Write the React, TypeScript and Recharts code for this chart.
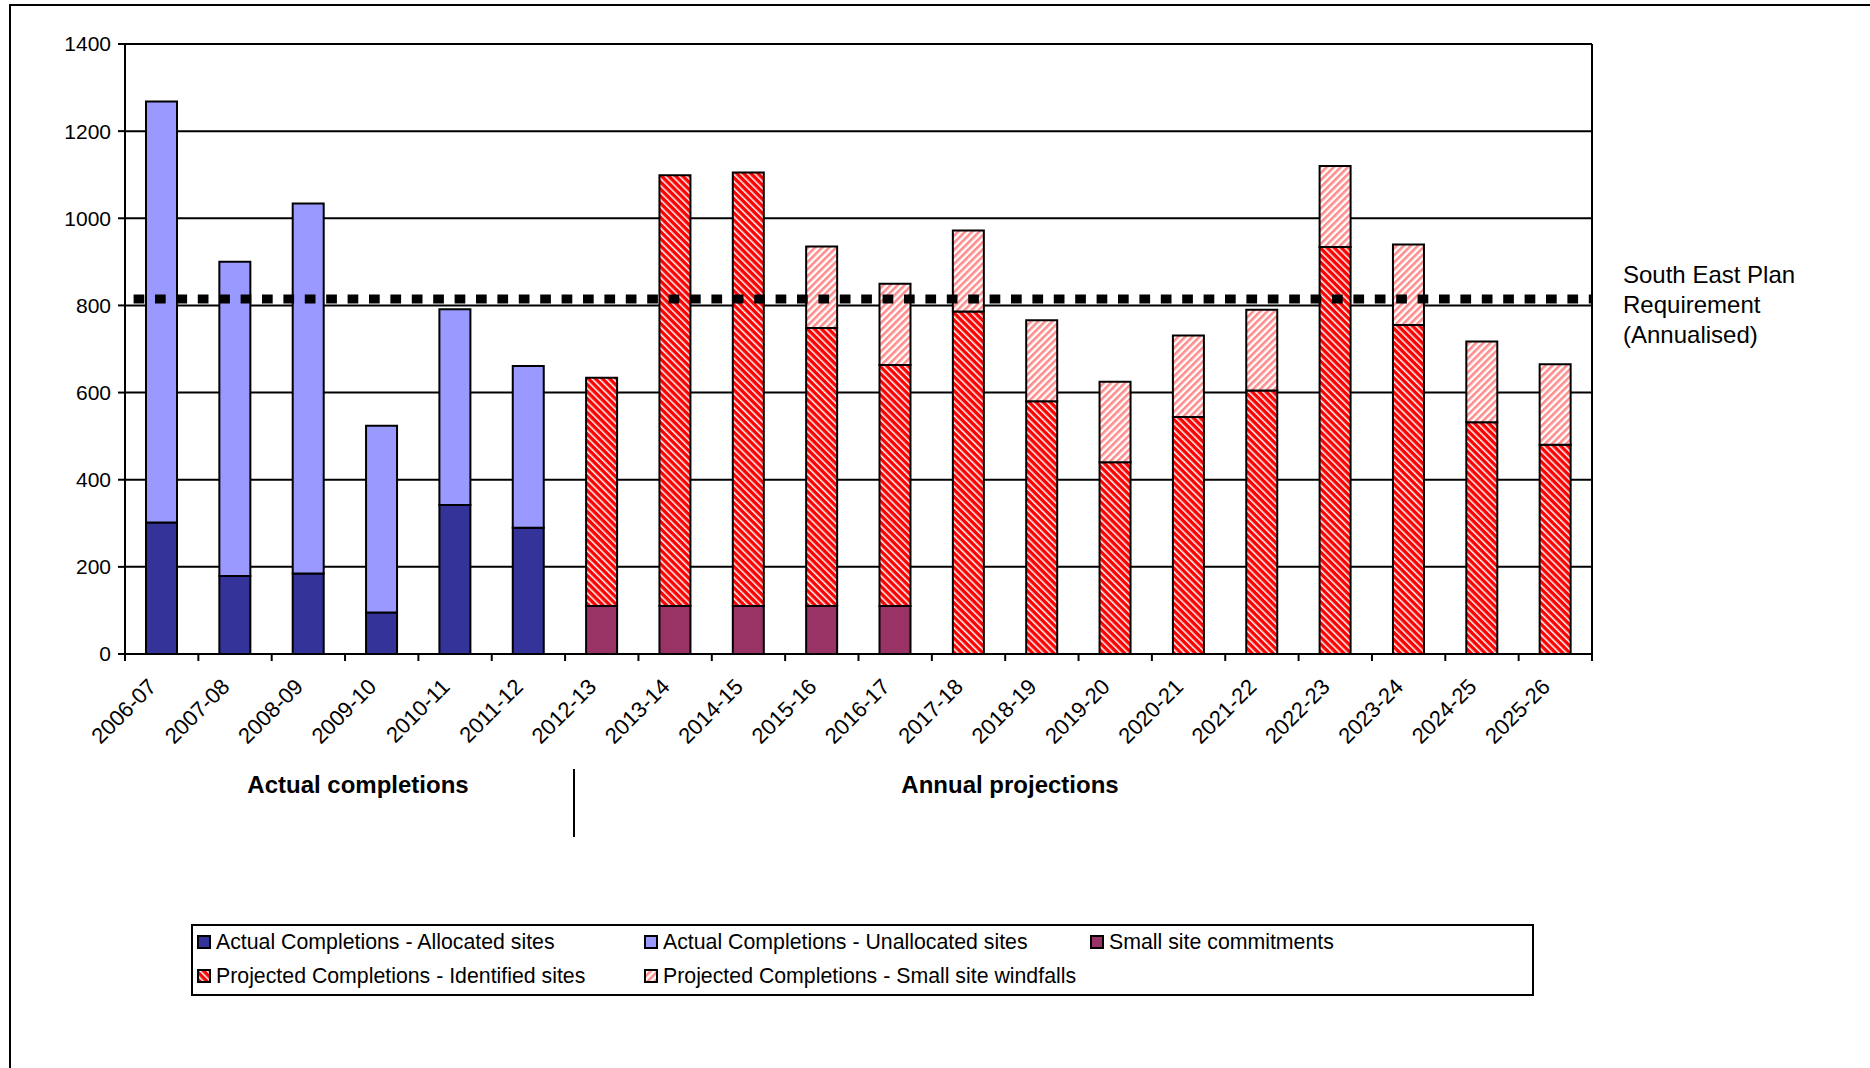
import { BarChart, Bar, XAxis, YAxis, CartesianGrid, ReferenceLine } from "recharts";

const YEARS = [
  "2006-07", "2007-08", "2008-09", "2009-10", "2010-11", "2011-12", "2012-13",
  "2013-14", "2014-15", "2015-16", "2016-17", "2017-18", "2018-19", "2019-20",
  "2020-21", "2021-22", "2022-23", "2023-24", "2024-25", "2025-26",
];
const ALLOCATED = [302, 179, 185, 95, 342, 290, 0, 0, 0, 0, 0, 0, 0, 0, 0, 0, 0, 0, 0, 0];
const UNALLOCATED = [966, 721, 849, 429, 449, 371, 0, 0, 0, 0, 0, 0, 0, 0, 0, 0, 0, 0, 0, 0];
const COMMITMENTS = [0, 0, 0, 0, 0, 0, 110, 110, 110, 110, 110, 0, 0, 0, 0, 0, 0, 0, 0, 0];
const IDENTIFIED = [0, 0, 0, 0, 0, 0, 524, 989, 995, 638, 553, 786, 580, 440, 544, 605, 934, 755, 532, 480];
const WINDFALLS = [0, 0, 0, 0, 0, 0, 0, 0, 0, 187, 187, 186, 186, 185, 187, 185, 186, 185, 185, 185];
const REQUIREMENT = 815;
const Y_TICKS = [0, 200, 400, 600, 800, 1000, 1200, 1400];

const SERIES = [
  { key: "allocated", name: "Actual Completions - Allocated sites", fill: "#333399" },
  { key: "unallocated", name: "Actual Completions - Unallocated sites", fill: "#9999FF" },
  { key: "commitments", name: "Small site commitments", fill: "#993366" },
  { key: "identified", name: "Projected Completions - Identified sites", fill: "url(#pIdent)" },
  { key: "windfalls", name: "Projected Completions - Small site windfalls", fill: "url(#pWind)" },
];

const data = YEARS.map((year, i) => ({
  year,
  allocated: ALLOCATED[i],
  unallocated: UNALLOCATED[i],
  commitments: COMMITMENTS[i],
  identified: IDENTIFIED[i],
  windfalls: WINDFALLS[i],
}));

const FONT = '"Liberation Sans", Arial, sans-serif';
const W = 1870;
const H = 1068;
const PLOT_LEFT = 125;
const PLOT_RIGHT = 1592;
const PLOT_TOP = 44;
const PLOT_BOTTOM = 654;
const BAND = (PLOT_RIGHT - PLOT_LEFT) / YEARS.length;

const XTick = (props: any) => {
  const { x, payload, index } = props;
  const half = BAND / 2;
  const last = index === YEARS.length - 1;
  return (
    <g>
      <line x1={x - half} x2={x - half} y1={PLOT_BOTTOM} y2={PLOT_BOTTOM + 7} stroke="#000" strokeWidth={2} />
      {last && (
        <line x1={x + half} x2={x + half} y1={PLOT_BOTTOM} y2={PLOT_BOTTOM + 7} stroke="#000" strokeWidth={2} />
      )}
      <text
        transform={`translate(${x - 4},${PLOT_BOTTOM + 34}) rotate(-45)`}
        textAnchor="end"
        fontSize={22}
        fontFamily={FONT}
        fill="#000"
      >
        {payload.value}
      </text>
    </g>
  );
};

const legendPos = [
  { left: 4, top: 8 },
  { left: 451, top: 8 },
  { left: 897, top: 8 },
  { left: 4, top: 42 },
  { left: 451, top: 42 },
];

export default function App() {
  return (
    <div style={{ position: "absolute", left: 0, top: 0, width: W, height: H, overflow: "hidden", background: "#fff", fontFamily: FONT }}>
      <div style={{ position: "absolute", left: 9, top: 4, width: 1900, height: 1100, border: "2px solid #000" }} />
      <div style={{ position: "absolute", left: 0, top: 0 }}>
        <BarChart
          width={W}
          height={H}
          data={data}
          barSize={31}
          margin={{ top: PLOT_TOP, right: W - PLOT_RIGHT, left: PLOT_LEFT - 60, bottom: H - PLOT_BOTTOM - 100 }}
        >
          <defs>
            <pattern id="pIdent" patternUnits="userSpaceOnUse" width="5" height="5" patternTransform="rotate(-45)">
              <rect width="5" height="5" fill="#ff0000" />
              <rect width="1.5" height="5" fill="#ffffff" />
            </pattern>
            <pattern id="pWind" patternUnits="userSpaceOnUse" width="5" height="5" patternTransform="rotate(45)">
              <rect width="5" height="5" fill="#ffffff" />
              <rect width="2.6" height="5" fill="#ff8c8c" />
            </pattern>
          </defs>
          <CartesianGrid
            stroke="#000"
            strokeWidth={2}
            verticalPoints={[PLOT_RIGHT]}
          />
          <XAxis
            dataKey="year"
            interval={0}
            height={100}
            axisLine={{ stroke: "#000", strokeWidth: 2 }}
            tickLine={false}
            tick={<XTick />}
          />
          <YAxis
            width={60}
            domain={[0, 1400]}
            ticks={Y_TICKS}
            interval={0}
            axisLine={{ stroke: "#000", strokeWidth: 2 }}
            tickLine={{ stroke: "#000", strokeWidth: 2 }}
            tickSize={7}
            tickMargin={7}
            tick={{ fill: "#000", fontSize: 21, fontFamily: FONT }}
          />
          {SERIES.map((s) => (
            <Bar
              key={s.key}
              dataKey={s.key}
              name={s.name}
              stackId="a"
              fill={s.fill}
              stroke="#000"
              strokeWidth={2}
              isAnimationActive={false}
            />
          ))}
          <ReferenceLine
            y={REQUIREMENT}
            stroke="#000"
            strokeWidth={9}
            strokeDasharray="10.7 10.7"
            strokeDashoffset={12.8}
          />
        </BarChart>
      </div>

      <div style={{ position: "absolute", left: 1623, top: 260, fontSize: 24, lineHeight: "30px", color: "#000" }}>
        South East Plan
        <br />
        Requirement
        <br />
        (Annualised)
      </div>

      <div style={{ position: "absolute", left: 358, top: 785, transform: "translate(-50%, -50%)", fontSize: 24, fontWeight: "bold", whiteSpace: "nowrap" }}>
        Actual completions
      </div>
      <div style={{ position: "absolute", left: 1010, top: 785, transform: "translate(-50%, -50%)", fontSize: 24, fontWeight: "bold", whiteSpace: "nowrap" }}>
        Annual projections
      </div>
      <div style={{ position: "absolute", left: 573, top: 769, width: 1.5, height: 68, background: "#000" }} />

      <div style={{ position: "absolute", left: 191, top: 924, width: 1339, height: 68, border: "2.5px solid #000", background: "#fff" }}>
        {SERIES.map((s, i) => (
          <div
            key={s.key}
            style={{ position: "absolute", left: legendPos[i].left, top: legendPos[i].top, display: "flex", alignItems: "center", whiteSpace: "nowrap", fontSize: 21.3, height: 16 }}
          >
            <svg width={14} height={14} style={{ marginRight: 5 }}>
              <rect x={1} y={1} width={12} height={12} fill={s.fill} stroke="#000" strokeWidth={2} />
            </svg>
            <span>{s.name}</span>
          </div>
        ))}
      </div>
    </div>
  );
}
